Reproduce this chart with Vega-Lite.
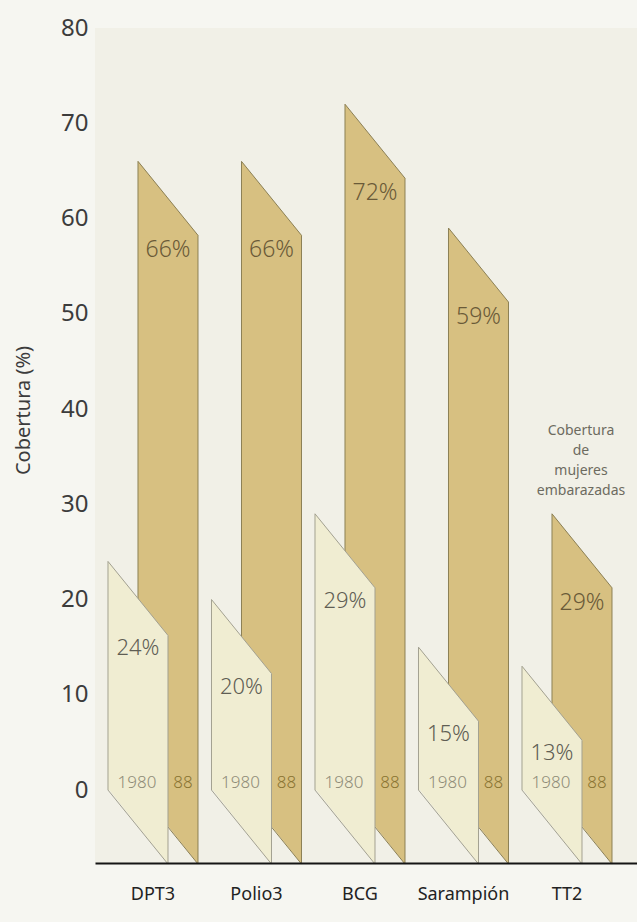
{
  "$schema": "https://vega.github.io/schema/vega-lite/v6.json",
  "width": 542,
  "height": 835,
  "autosize": {"type": "none"},
  "padding": {"left": 95, "top": 28, "right": 0, "bottom": 59},
  "background": "#f6f6f1",
  "view": {"fill": "#f1f0e7", "stroke": null},
  "config": {"font": "Noto Sans"},
  "data": {
    "values": [
      {"vacuna": "DPT3", "anio": "1980", "valor": 24, "etiqueta": "24%"},
      {"vacuna": "DPT3", "anio": "88", "valor": 66, "etiqueta": "66%"},
      {"vacuna": "Polio3", "anio": "1980", "valor": 20, "etiqueta": "20%"},
      {"vacuna": "Polio3", "anio": "88", "valor": 66, "etiqueta": "66%"},
      {"vacuna": "BCG", "anio": "1980", "valor": 29, "etiqueta": "29%"},
      {"vacuna": "BCG", "anio": "88", "valor": 72, "etiqueta": "72%"},
      {"vacuna": "Sarampión", "anio": "1980", "valor": 15, "etiqueta": "15%"},
      {"vacuna": "Sarampión", "anio": "88", "valor": 59, "etiqueta": "59%"},
      {"vacuna": "TT2", "anio": "1980", "valor": 13, "etiqueta": "13%"},
      {"vacuna": "TT2", "anio": "88", "valor": 29, "etiqueta": "29%"}
    ]
  },
  "encoding": {
    "x": {
      "field": "vacuna",
      "type": "nominal",
      "sort": ["DPT3", "Polio3", "BCG", "Sarampión", "TT2"],
      "scale": {"type": "band", "paddingInner": 0.1304, "paddingOuter": 0.1836, "align": 0.342},
      "axis": {
        "title": null,
        "domain": true,
        "domainColor": "#151515",
        "domainWidth": 2,
        "ticks": false,
        "tickSize": 0,
        "labelAngle": 0,
        "labelFontSize": 18,
        "labelColor": "#222222",
        "labelPadding": 22,
        "zindex": 1
      }
    },
    "y": {
      "field": "valor",
      "type": "quantitative",
      "scale": {"domain": [-7.66, 80], "nice": false, "zero": false},
      "axis": {
        "values": [0, 10, 20, 30, 40, 50, 60, 70, 80],
        "domain": false,
        "ticks": false,
        "grid": false,
        "labelFontSize": 24,
        "labelColor": "#3c3c3c",
        "labelPadding": 7,
        "title": "Cobertura (%)",
        "titleFontSize": 20,
        "titleFontWeight": "normal",
        "titleColor": "#3c3c3c",
        "titleX": -72,
        "titleY": 382,
        "titleBaseline": "middle",
        "titleAngle": -90
      }
    }
  },
  "layer": [
    {
      "transform": [{"filter": "datum.anio == '88'"}],
      "mark": {"type": "bar", "width": 60, "xOffset": 15, "yOffset": 74, "color": "#d7c081", "strokeWidth": 0},
      "encoding": {"y2": {"datum": 0}}
    },
    {
      "transform": [{"filter": "datum.anio == '88'"}],
      "mark": {"type": "point", "shape": "M-1,0L1,2.4667L1,2.53L-1,2.53Z", "filled": true, "size": 3600, "xOffset": 15, "color": "#d7c081", "opacity": 1, "strokeWidth": 0}
    },
    {
      "transform": [{"filter": "datum.anio == '88'"}],
      "mark": {"type": "point", "shape": "M-1,-0.06L1,-0.06L1,2.4667Z", "filled": true, "size": 3600, "xOffset": 15, "color": "#d7c081", "opacity": 1, "strokeWidth": 0},
      "encoding": {"y": {"datum": 0, "type": "quantitative"}}
    },
    {
      "transform": [{"filter": "datum.anio == '88'"}],
      "mark": {"type": "point", "shape": "M-1,0L1,2.4667", "filled": false, "size": 3600, "xOffset": 15, "color": "#8c8055", "opacity": 1, "strokeWidth": 1}
    },
    {
      "transform": [{"filter": "datum.anio == '88'"}],
      "mark": {"type": "point", "shape": "M-1,0L1,2.4667", "filled": false, "size": 3600, "xOffset": 15, "color": "#8c8055", "opacity": 1, "strokeWidth": 1},
      "encoding": {"y": {"datum": 0, "type": "quantitative"}}
    },
    {
      "transform": [{"filter": "datum.anio == '88'"}],
      "mark": {"type": "rule", "xOffset": -15, "color": "#8c8055", "strokeWidth": 1},
      "encoding": {"y2": {"datum": 0}}
    },
    {
      "transform": [{"filter": "datum.anio == '88'"}],
      "mark": {"type": "rule", "xOffset": 45, "yOffset": 74, "y2Offset": 74, "color": "#8c8055", "strokeWidth": 1},
      "encoding": {"y2": {"datum": 0}}
    },
    {
      "transform": [{"filter": "datum.anio == '1980'"}],
      "mark": {"type": "bar", "width": 60, "xOffset": -15, "yOffset": 74, "color": "#f0edd2", "strokeWidth": 0},
      "encoding": {"y2": {"datum": 0}}
    },
    {
      "transform": [{"filter": "datum.anio == '1980'"}],
      "mark": {"type": "point", "shape": "M-1,0L1,2.4667L1,2.53L-1,2.53Z", "filled": true, "size": 3600, "xOffset": -15, "color": "#f0edd2", "opacity": 1, "strokeWidth": 0}
    },
    {
      "transform": [{"filter": "datum.anio == '1980'"}],
      "mark": {"type": "point", "shape": "M-1,-0.06L1,-0.06L1,2.4667Z", "filled": true, "size": 3600, "xOffset": -15, "color": "#f0edd2", "opacity": 1, "strokeWidth": 0},
      "encoding": {"y": {"datum": 0, "type": "quantitative"}}
    },
    {
      "transform": [{"filter": "datum.anio == '1980'"}],
      "mark": {"type": "point", "shape": "M-1,0L1,2.4667", "filled": false, "size": 3600, "xOffset": -15, "color": "#a3a191", "opacity": 1, "strokeWidth": 1}
    },
    {
      "transform": [{"filter": "datum.anio == '1980'"}],
      "mark": {"type": "point", "shape": "M-1,0L1,2.4667", "filled": false, "size": 3600, "xOffset": -15, "color": "#a3a191", "opacity": 1, "strokeWidth": 1},
      "encoding": {"y": {"datum": 0, "type": "quantitative"}}
    },
    {
      "transform": [{"filter": "datum.anio == '1980'"}],
      "mark": {"type": "rule", "xOffset": -45, "color": "#a3a191", "strokeWidth": 1},
      "encoding": {"y2": {"datum": 0}}
    },
    {
      "transform": [{"filter": "datum.anio == '1980'"}],
      "mark": {"type": "rule", "xOffset": 15, "yOffset": 74, "y2Offset": 74, "color": "#a3a191", "strokeWidth": 1},
      "encoding": {"y2": {"datum": 0}}
    },
    {
      "transform": [{"filter": "datum.anio == '88'"}],
      "mark": {"type": "text", "xOffset": 15, "dy": 89, "fontSize": 23, "fontWeight": 300, "color": "#6a5a38"},
      "encoding": {"text": {"field": "etiqueta"}}
    },
    {
      "transform": [{"filter": "datum.anio == '1980'"}],
      "mark": {"type": "text", "xOffset": -15, "dy": 87, "fontSize": 22, "fontWeight": 300, "color": "#5f5d54"},
      "encoding": {"text": {"field": "etiqueta"}}
    },
    {
      "transform": [{"filter": "datum.anio == '1980'"}],
      "mark": {"type": "text", "xOffset": -16, "dy": -7, "fontSize": 17, "fontWeight": 300, "color": "#8f8c78"},
      "encoding": {"y": {"datum": 0, "type": "quantitative"}, "text": {"field": "anio"}}
    },
    {
      "transform": [{"filter": "datum.anio == '88'"}],
      "mark": {"type": "text", "xOffset": 30, "dy": -7, "fontSize": 17, "fontWeight": 300, "color": "#8a7432"},
      "encoding": {"y": {"datum": 0, "type": "quantitative"}, "text": {"field": "anio"}}
    },
    {
      "transform": [{"filter": "datum.anio == '88' && datum.vacuna == 'TT2'"}],
      "mark": {"type": "text", "text": ["Cobertura", "de", "mujeres", "embarazadas"], "xOffset": 14, "dy": -76, "baseline": "bottom", "lineHeight": 20, "fontSize": 14, "color": "#6d6b60"}
    }
  ]
}
